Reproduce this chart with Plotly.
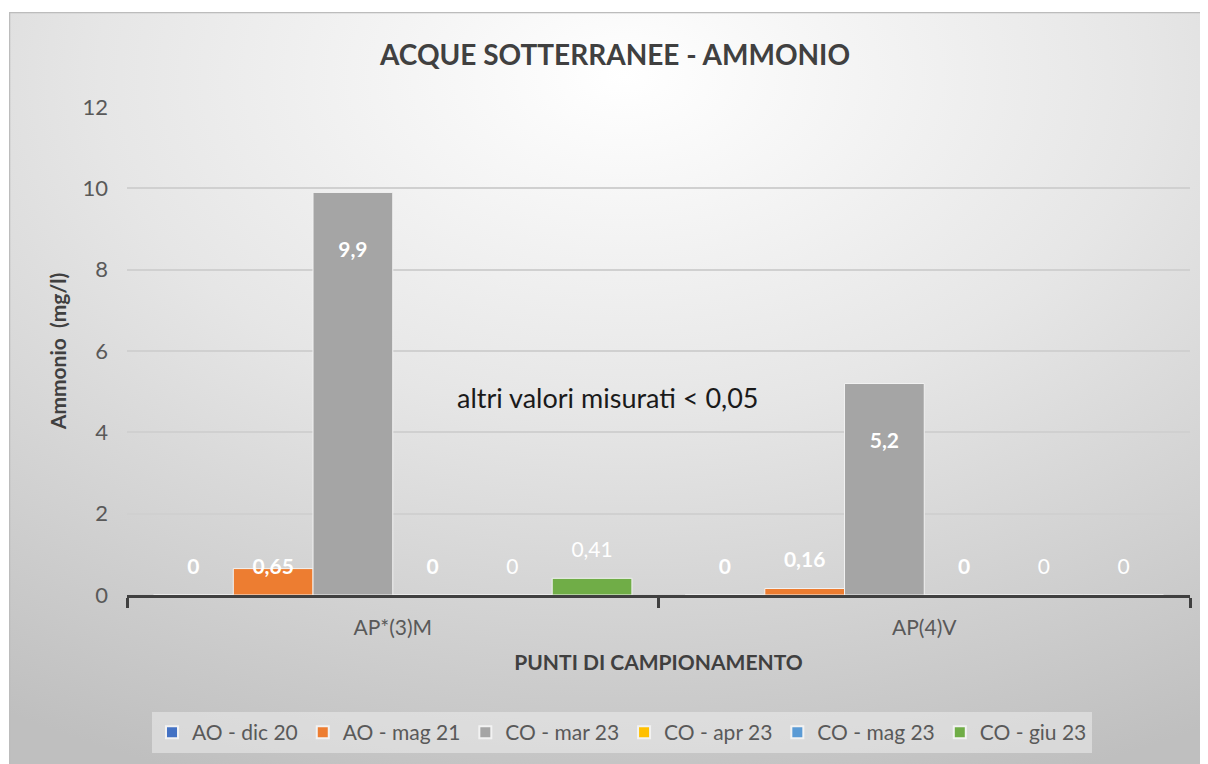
import base64
import plotly.graph_objects as go

# ---- data ----
categories = ["AP*(3)M", "AP(4)V"]
series_names = ["AO - dic 20", "AO - mag 21", "CO - mar 23", "CO - apr 23", "CO - mag 23", "CO - giu 23"]
values_ao_dic20 = [0, 0]
values_ao_mag21 = [0.65, 0.16]
values_co_mar23 = [9.9, 5.2]
values_co_apr23 = [0, 0]
values_co_mag23 = [0, 0]
values_co_giu23 = [0.41, 0]
series_values = [values_ao_dic20, values_ao_mag21, values_co_mar23,
                 values_co_apr23, values_co_mag23, values_co_giu23]
series_colors = ["#4472C4", "#ED7D31", "#A5A5A5", "#FFC000", "#5B9BD5", "#70AD47"]
label_bold = [True, True, True, True, False, False]
note_text = "altri valori misurati < 0,05"

FONT = "Lato, Carlito, Calibri, 'Open Sans', sans-serif"
W, H = 1200, 760
L, R, T, B = 119, 18, 99, 173
PW, PH = W - L - R, H - T - B
GAP = 0.1


def fmt(v):
    return ("%g" % v).replace(".", ",")


def label_style(v):
    # (text position, spacer size) mimicking the Excel label placement
    if v > 2:
        return "bottom center", 76
    if v > 0.5:
        return "middle center", 0
    return "top center", 24


# radial gradient background as svg
svg = f'''<svg xmlns="http://www.w3.org/2000/svg" width="{W}" height="{H}" viewBox="0 0 {W} {H}" preserveAspectRatio="none">
<defs><radialGradient id="g" cx="0.5" cy="0.08" r="0.95" fx="0.5" fy="0.08">
<stop offset="0" stop-color="#ffffff"/>
<stop offset="0.45" stop-color="#e6e6e6"/>
<stop offset="1" stop-color="#bfbfbf"/>
</radialGradient></defs>
<rect x="0.5" y="0.5" width="{W+10}" height="{H+10}" fill="url(#g)" stroke="#bcbcbc" stroke-width="1.5"/>
</svg>'''
svg_uri = "data:image/svg+xml;base64," + base64.b64encode(svg.encode()).decode()

fig = go.Figure()
for i, (name, vals, col) in enumerate(zip(series_names, series_values, series_colors)):
    fig.add_trace(go.Bar(
        name=name, x=categories, y=vals, offsetgroup=str(i),
        marker=dict(color=col, line=dict(color="#f2f2f2", width=1)),
        hoverinfo="x+y+name",
    ))

# data labels (scatter text aligned to the bar groups)
for i, (name, vals, bold) in enumerate(zip(series_names, series_values, label_bold)):
    labels = [("<b>%s</b>" % fmt(v)) if bold else fmt(v) for v in vals]
    styles = [label_style(v) for v in vals]
    fig.add_trace(go.Scatter(
        x=categories, y=vals, mode="markers+text", text=labels,
        textposition=[s[0] for s in styles],
        marker=dict(size=[s[1] for s in styles], color="rgba(0,0,0,0)", line=dict(width=0)),
        offsetgroup=str(i), showlegend=False, hoverinfo="skip",
        textfont=dict(family=FONT, size=21, color="white"), cliponaxis=False,
    ))

# background image placement (in paper coords)
fig.add_layout_image(dict(
    source=svg_uri, xref="paper", yref="paper",
    x=(1 - L) / PW, y=1 + (T - 4) / PH, sizex=(W + 20) / PW, sizey=(H + 20) / PH,
    xanchor="left", yanchor="top", sizing="stretch", layer="below",
))

fig.add_annotation(
    text=note_text, xref="paper", yref="paper",
    x=(600 - L) / PW, y=1 - (389 - T) / PH,
    showarrow=False, font=dict(family=FONT, size=27, color="#1a1a1a"),
)

fig.update_layout(
    width=W, height=H,
    margin=dict(l=L, r=R, t=T, b=B, pad=0),
    paper_bgcolor="white", plot_bgcolor="rgba(0,0,0,0)",
    barmode="group", bargap=GAP, bargroupgap=0,
    scattermode="group", scattergap=GAP,
    font=dict(family=FONT, color="#595959"),
    title=dict(text="<b>ACQUE SOTTERRANEE - AMMONIO</b>", x=607 / W, xanchor="center",
               y=1 - 47 / H, yanchor="middle",
               font=dict(family=FONT, size=28, color="#404040")),
    legend=dict(orientation="h", x=(614 - L) / PW, xanchor="center",
                y=-(704 - T - PH) / PH, yanchor="top",
                bgcolor="rgba(236,236,236,0.55)",
                font=dict(family=FONT, size=21, color="#595959"),
                itemsizing="constant", traceorder="normal"),
    showlegend=True,
)

fig.update_yaxes(
    range=[0, 12], dtick=2, showgrid=True, gridcolor="#d0d0d0", gridwidth=1.5,
    zeroline=False, showline=False, ticks="",
    tickfont=dict(family=FONT, size=22, color="#595959"),
    ticklabelstandoff=18,
    title=dict(text="<b>Ammonio  (mg/l)</b>", standoff=10,
               font=dict(family=FONT, size=21, color="#404040")),
)
fig.update_xaxes(
    showline=True, linecolor="#404040", linewidth=3,
    ticks="outside", tickson="boundaries", ticklen=10, tickwidth=3, tickcolor="#404040",
    tickfont=dict(family=FONT, size=21, color="#595959"),
    ticklabelstandoff=12,
    title=dict(text="<b>PUNTI DI CAMPIONAMENTO</b>", standoff=18,
               font=dict(family=FONT, size=21, color="#404040")),
)

fig.write_html("out.html")
